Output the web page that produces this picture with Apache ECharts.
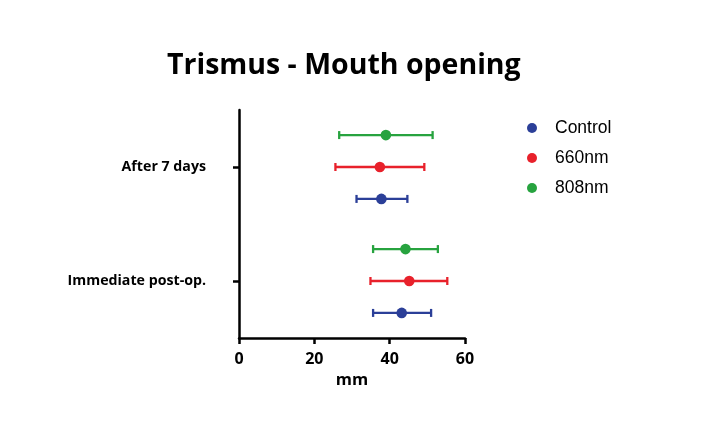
<!DOCTYPE html>
<html><head><meta charset="utf-8">
<script src="https://cdn.jsdelivr.net/npm/echarts@6/dist/echarts.min.js"></script>
<style>html,body{margin:0;padding:0;background:#fff}#c{width:709px;height:427px}</style>
</head><body><div id="c"></div>
<script>
const categories = ['Immediate post-op.', 'After 7 days'];
const seriesNames = ['Control', '660nm', '808nm'];
const seriesColors = ['#2b3f98', '#e8212b', '#27a33f'];
// [mean, lower, upper] per category (Immediate, After 7 days)
const controlValues = [[43.2, 35.6, 51.0], [37.8, 31.2, 44.7]];
const nm660Values   = [[45.2, 34.9, 55.3], [37.4, 25.6, 49.2]];
const nm808Values   = [[44.2, 35.6, 52.8], [39.0, 26.6, 51.4]];
const xTicks = [0, 20, 40, 60];

const allValues = [controlValues, nm660Values, nm808Values];
const offsets = [0.28, 0, -0.28];

function makeSeries(i) {
  return {
    type: 'custom',
    name: seriesNames[i],
    itemStyle: { color: seriesColors[i] },
    encode: { x: [1, 2, 3], y: 0 },
    data: allValues[i].map((v, ci) => [ci, v[0], v[1], v[2]]),
    renderItem: function (params, api) {
      const ci = api.value(0);
      const band = api.size([0, 1])[1];
      const dy = offsets[i] * band;
      const pm = api.coord([api.value(1), ci]);
      const pl = api.coord([api.value(2), ci]);
      const ph = api.coord([api.value(3), ci]);
      const y = pm[1] + dy;
      const cap = 4;
      const st = { stroke: seriesColors[i], lineWidth: 2.3, fill: null };
      return {
        type: 'group',
        children: [
          { type: 'line', shape: { x1: pl[0], y1: y, x2: ph[0], y2: y }, style: st },
          { type: 'line', shape: { x1: pl[0], y1: y - cap, x2: pl[0], y2: y + cap }, style: st },
          { type: 'line', shape: { x1: ph[0], y1: y - cap, x2: ph[0], y2: y + cap }, style: st },
          { type: 'circle', shape: { cx: pm[0], cy: y, r: 5.3 }, style: { fill: seriesColors[i] } }
        ]
      };
    }
  };
}

const chart = echarts.init(document.getElementById('c'));
chart.setOption({
  backgroundColor: '#fff',
  animation: false,
  title: {
    text: 'Trismus - Mouth opening',
    left: 162, top: 46,
    textStyle: { fontFamily: 'Open Sans', fontWeight: 'bold', fontSize: 28.5, color: '#000' }
  },
  legend: {
    orient: 'vertical',
    left: 522, top: 113,
    icon: 'circle',
    itemWidth: 10, itemHeight: 10,
    itemGap: 10,
    data: seriesNames,
    textStyle: { fontFamily: 'Liberation Sans', fontSize: 17.5, color: '#000', lineHeight: 20, padding: [0, 0, 0, 13] }
  },
  grid: { left: 239, right: 244, top: 110, bottom: 89 },
  xAxis: {
    type: 'value', min: 0, max: 60, interval: 20,
    name: 'mm', nameLocation: 'middle', nameGap: 33,
    nameTextStyle: { fontFamily: 'Open Sans', fontWeight: 'bold', fontSize: 16.5, color: '#000' },
    axisLine: { show: true, lineStyle: { color: '#000', width: 2.5 } },
    axisTick: { show: true, length: 6, lineStyle: { color: '#000', width: 2.5 } },
    axisLabel: { fontFamily: 'Open Sans', fontWeight: 'bold', fontSize: 16, color: '#000', margin: 13,
      formatter: v => xTicks.includes(v) ? String(v) : '' },
    splitLine: { show: false }
  },
  yAxis: {
    type: 'category', data: categories,
    axisLine: { show: true, lineStyle: { color: '#000', width: 2.5 } },
    axisTick: { show: true, alignWithLabel: true, length: 6, lineStyle: { color: '#000', width: 2.5 } },
    axisLabel: { fontFamily: 'Open Sans', fontWeight: 'bold', fontSize: 14.2, color: '#000', margin: 33 },
    splitLine: { show: false }
  },
  series: [makeSeries(0), makeSeries(1), makeSeries(2)]
});
</script></body></html>
